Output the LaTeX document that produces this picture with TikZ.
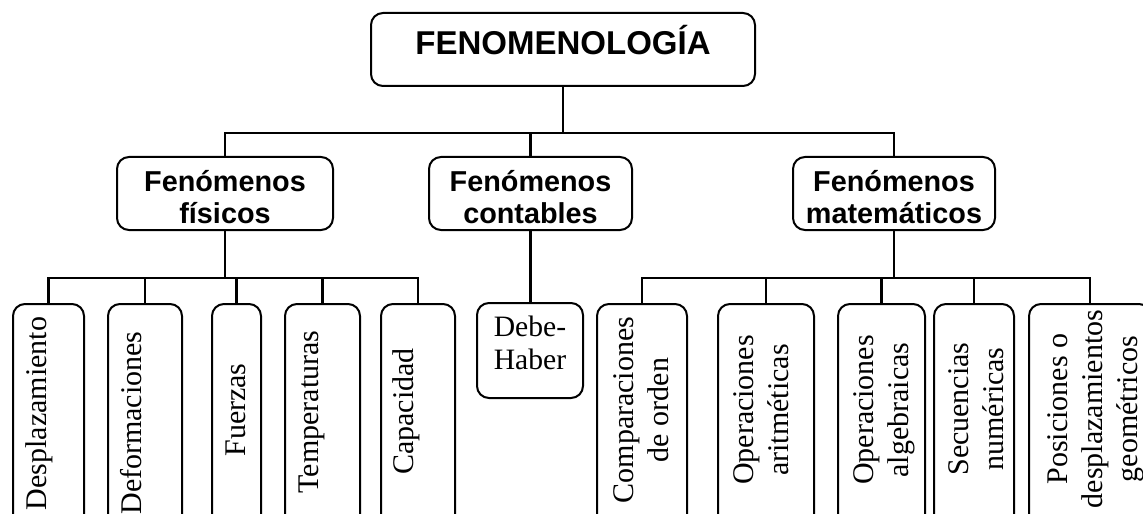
\documentclass[tikz,border=0pt]{standalone}
\usepackage{fontspec}
\setmainfont{Liberation Serif}
\newfontfamily\arialfont{Liberation Sans}
\begin{document}
\begin{tikzpicture}[x=0.5pt,y=-0.5pt,
        box/.style={draw,line width=1pt,rounded corners=6pt,inner sep=0pt},
        head/.style={box,minimum height=36.5pt,align=center,text height=30pt,text depth=0.5pt,font=\arialfont\bfseries\fontsize{14.4}{16}\selectfont},
        leaf/.style={box,minimum height=113pt},
        vtext/.style={rotate=90,anchor=north,inner sep=0pt,align=center,font=\fontsize{15}{17.5}\selectfont},
        link/.style={line width=1.1pt}]
        \useasboundingbox (0,0) rectangle (1143,513);
        \clip (0,0) rectangle (1143,513);
        \node[box,minimum width=192pt,minimum height=36.5pt,font=\arialfont\bfseries\fontsize{16.5}{18}\selectfont,text height=12pt,text depth=6.5pt] (fen) at (563,49.5) {FENOMENOLOGÍA};
        \node[head,minimum width=108pt] (fis) at (225,193.5) {Fenómenos\\físicos};
        \node[head,minimum width=101.5pt] (con) at (530.5,193.5) {Fenómenos\\contables};
        \node[head,minimum width=101pt] (mat) at (894,193.5) {Fenómenos\\matemáticos};
        \node[leaf,minimum width=35.5pt] (desp) at (48.5,417) {};
        \node[leaf,minimum width=37pt] (defo) at (145,417) {};
        \node[leaf,minimum width=24.5pt] (fuer) at (236.5,417) {};
        \node[leaf,minimum width=37.5pt] (temp) at (322.5,417) {};
        \node[leaf,minimum width=37pt] (capa) at (418,417) {};
        \node[box,minimum width=53pt,minimum height=47.5pt,align=center,font=\fontsize{14.8}{16.5}\selectfont,text height=28pt,text depth=9.5pt] (debe) at (530,350.5) {Debe-\\Haber};
        \node[leaf,minimum width=45pt] (comp) at (642,417) {};
        \node[leaf,minimum width=48pt] (arit) at (766,417) {};
        \node[leaf,minimum width=43.5pt] (alge) at (881.5,417) {};
        \node[leaf,minimum width=40pt] (secu) at (974,417) {};
        \node[leaf,minimum width=61pt] (posi) at (1090,417) {};
        \node[vtext] (desptxt) at (25,413.5) {Desplazamiento};
        \node[vtext] (defotxt) at (120,423) {Deformaciones};
        \node[vtext] (fuertxt) at (225,410) {Fuerzas};
        \node[vtext] (temptxt) at (298,412) {Temperaturas};
        \node[vtext] (capatxt) at (392,411.5) {Capacidad};
        \node[vtext] (comptxt) at (613,410) {Comparaciones\\de orden};
        \node[vtext] (arittxt) at (733,410) {Operaciones\\aritméticas};
        \node[vtext] (algetxt) at (853,410) {Operaciones\\algebraicas};
        \node[vtext] (secutxt) at (948,409) {Secuencias\\numéricas};
        \node[vtext] (positxt) at (1047,409) {Posiciones o\\desplazamientos\\geométricos};
        \coordinate (top) at (563,133);
        \draw[link] (fen.south) -- (top);
        \draw[link] (fis.north) |- (top) -| (mat.north);
        \draw[link] (con.north) -- (con.north |- top);
        \foreach \n in {desp,defo,fuer,temp,capa}
        \draw[link] (fis.south) -- ++(0,47) -| (\n.north);
        \draw[link] (con.south) -- (con.south |- debe.north);
        \foreach \n in {comp,arit,alge,secu,posi}
        \draw[link] (mat.south) -- ++(0,47) -| (\n.north);
    \end{tikzpicture}
\end{document}
